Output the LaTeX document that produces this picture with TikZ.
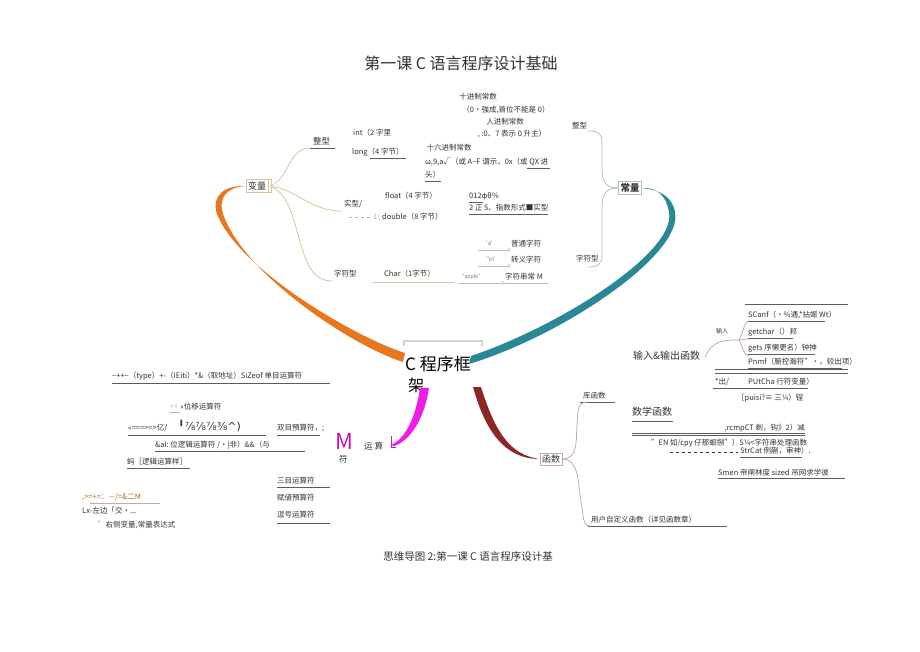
\documentclass[tikz,border=0pt]{standalone}
\usepackage{fontspec}
\setmainfont{Noto Sans CJK SC}
\newfontfamily\symf{DejaVu Sans}
\newfontfamily\latf{Carlito}
\definecolor{txt}{HTML}{333333}
\definecolor{orng}{HTML}{E8771E}
\definecolor{teal2}{HTML}{2A8797}
\definecolor{mag}{HTML}{EE1CE6}
\definecolor{dred}{HTML}{8E2626}
\definecolor{tan2}{HTML}{DCC4A0}
\definecolor{tealg}{HTML}{A6C4C6}
\definecolor{pinkg}{HTML}{C8A8B0}
\begin{document}
\begin{tikzpicture}[x=1pt,y=-1pt,
  t/.style={anchor=west,inner sep=0pt,text=txt,font=\fontsize{7.5}{8}\selectfont},
  tc/.style={t,anchor=center},
  big/.style={t,font=\fontsize{10}{11}\selectfont},
  ul/.style={draw=txt!80,line width=0.5pt},
  ulp/.style={draw=pinkg,line width=0.5pt},
  brT/.style={draw=tan2,line width=0.8pt},
  brC/.style={draw=tealg,line width=0.8pt},
  brP/.style={draw=pinkg,line width=0.8pt},
  boxn/.style={draw=#1,line width=0.7pt,inner sep=2pt,text=txt,font=\fontsize{9}{10}\selectfont}
]
\useasboundingbox (0,0) rectangle (920,651);
\fill[white] (0,0) rectangle (920,651);

% title and caption
\node[tc,font=\fontsize{16}{17}\selectfont] (title) at (461,63) {第一课 C 语言程序设计基础};
\node[tc,font=\fontsize{10.5}{12}\selectfont] (cap) at (468,556) {思维导图 2:第一课 C 语言程序设计基};

% centre
\node[minimum width=78pt,minimum height=38pt,inner sep=0pt] (ctr) at (443,360) {};
\draw[gray!35,line width=1.3pt] (404,346) -- (404,341) -- (482,341) -- (482,346);
\node[t,font=\fontsize{17}{18}\selectfont,text=black] (ctrA) at (405,364) {C 程序框};
\node[t,font=\fontsize{16}{18}\selectfont,text=black] (ctrB) at (408,385) {架};

% main nodes
\node[boxn=tan2] (var) at (257,186) {变量};
\node[boxn=tealg,font=\fontsize{9.5}{10}\selectfont\bfseries] (const) at (630,188) {常量};
\node[boxn=pinkg] (func) at (551,459) {函数};
\node[big] (io) at (633,356) {输入\&输出函数};
\node[t,font=\fontsize{22}{22}\selectfont,text=mag!60!violet] (opM) at (335,441) {M};
\node[t,font=\fontsize{8.5}{9}\selectfont] (opF) at (339,459) {符};
\node[t,font=\fontsize{8.5}{9}\selectfont] (opY) at (364,446) {运 算};

% main tapered connectors
\fill[orng] (405,353) .. controls (352,336) and (238,268) .. (217,214)
  .. controls (211,195) and (225,185.3) .. (var.west)
  .. controls (227,187.5) and (218,197) .. (223,214)
  .. controls (244,274) and (350,345) .. (403,362) -- cycle;
\fill[teal2] (471,356) .. controls (560,326) and (677,252) .. (669,212)
  .. controls (666,196) and (658,187.3) .. (const.east)
  .. controls (661,190) and (672,197) .. (675,212)
  .. controls (684,254) and (562,336) .. (469,364) -- cycle;
\fill[mag] (420,388) -- (429,388) .. controls (424,420) and (410,441) .. (393,446.5)
  -- (392,444.5) .. controls (406,438) and (416,416) .. (420,388) -- cycle;
\draw[mag!70!violet,line width=1pt] (391,436) -- (391,447) -- (396,447);
\fill[dred] (473,387) -- (481,387) .. controls (494,428) and (508,455) .. (func.west)
  .. controls (504,459) and (485,430) .. (473,387) -- cycle;

% ---------- variables ----------
\node[t,font=\fontsize{8.5}{9}\selectfont] (zx) at (313,141) {整型};
\draw[ul] (310,148) -- (335,148);
\node[t] (sx) at (344,204) {实型/};
\node[t] (zf) at (334,274) {字符型};
\draw[brT] ([xshift=2pt]var.east) .. controls (290,178) and (288,148) .. (310,148);
\draw[brT] ([xshift=2pt]var.east) .. controls (298,190) and (310,211) .. (342,211);
\draw[brT] ([xshift=2pt]var.east) .. controls (305,200) and (292,281) .. (332,281);
\draw[tan2,line width=1pt] (var.north east) -- ++(3,0) -- ([xshift=3pt]var.south east) -- (var.south east);

\node[t] (int) at (353,133) {int（2 字里};
\node[t] (long) at (352,152) {long（4 字节）};
\draw[ul] (370,158) -- (406,158);
\node[tc] (d10) at (478,97) {十进制常数};
\node[tc] (d10b) at (506,110) {（0•強成,首位不能是 0）};
\node[tc] (d8) at (505,122) {人进制常数};
\node[tc] (d8b) at (512,134) {, :0、7 表示 0 升主）};
\node[tc] (d16) at (449,148) {十六进制常数};
\node[t] (d16b) at (425,162) {ω,9,a√（或 A−F 谓示，0x（或 QX 进};
\draw[ul] (527,168) -- (550,168);
\node[t] (d16c) at (425,175) {头）};
\draw[ul] (425,181) -- (441,181);
\node[t] (flt) at (385,196) {float（4 字节）};
\draw[pinkg,dashed,line width=0.5pt] (349,217) -- (373,217);
\node[t,text=pinkg] (dbl0) at (373,217) {1\textbackslash\_};
\node[t] (dbl) at (382,217) {double（8 字节）};
\node[t] (fa) at (469,196) {012φθ\%};
\draw[ul] (469,202) -- (483,202);
\node[t] (fb) at (469,208) {2 正 5、指数形式■实型};
\draw[ul] (469,214) -- (548,214);

\node[t,text=gray,font=\latf\fontsize{7}{8}\selectfont] (ca) at (486,243) {\textquotesingle a\textquotesingle};
\node[t] (cn) at (511,244) {普通字符};
\node[t,text=gray,font=\latf\fontsize{7}{8}\selectfont] (cb) at (486,259) {\textquotesingle\textbackslash n\textquotesingle};
\node[t] (ce) at (511,260) {转义字符};
\node[t] (chr) at (384,274) {Char（1字节）};
\node[t,text=gray,font=\latf\fontsize{6}{7}\selectfont] (cs) at (462,277) {"apple"};
\node[t] (cstr) at (505,277) {字符串常 M};
\draw[tealg,line width=0.6pt] (478,250) -- (509,250);
\draw[tealg,line width=0.6pt] (478,266) -- (509,266);
\draw[tealg,fill=white,line width=0.5pt] (509,250) circle (1.5pt);
\draw[tealg,fill=white,line width=0.5pt] (509,266) circle (1.5pt);
\draw[tan2,line width=0.6pt] (372,282) -- (455,282);
\draw[tealg,line width=0.6pt] (458,283) -- (548,283);
\draw[tealg,fill=white,line width=0.5pt] (503,283) circle (1.5pt);

% ---------- constants ----------
\node[t] (cz) at (572,126) {整型};
\node[t] (czf) at (576,259) {字符型};
\draw[brC] (const.west) .. controls (604,188) and (602,180) .. (602,168) -- (602,142)
  .. controls (602,133) and (598,131) .. (588,131);
\draw[brC] (const.west) .. controls (604,188) and (602,196) .. (602,208) -- (602,255)
  .. controls (602,264) and (598,267) .. (588,267);

% ---------- input / output ----------
\draw[ul] (745,304) -- (848,304);
\node[t,font=\fontsize{6}{7}\selectfont] (in) at (716,331) {输入};
\coordinate (inJ) at (739,340);
\draw[brP] (705,357) .. controls (712,340) and (725,340) .. (inJ);
\draw[brP] (inJ) .. controls (743,333) and (744,322) .. (749,321);
\draw[brP] (inJ) -- (748,339);
\draw[brP] (inJ) .. controls (743,347) and (744,356) .. (749,356);
\node[t] (scanf) at (748,315) {SCanf（·\%通,*拈娠 Wt）};
\draw[ul] (748,321) -- (825,321);
\node[t] (getc) at (748,332) {getchar（）邦};
\draw[ul] (748,338) -- (793,338);
\node[t] (gets) at (748,348) {gets 序懒更名）钟抻};
\draw[ul] (748,354) -- (815,354);
\node[t] (pmf) at (748,362) {Pnmf（腑控瀚符"•，较出项）};
\draw[ul] (748,368) -- (842,368);
\draw[ul] (715,369) -- (848,369);
\draw[ul] (715,373) -- (848,373);
\node[t] (out) at (715,382) {*出/};
\node[t] (putc) at (748,382) {PUtCha 行符变量）};
\draw[ul] (713,388) -- (808,388);
\node[t] (puts) at (737,398) {［puisi?≡ 三¼）锃};

\node[big] (math) at (632,412) {数学函数};
\draw[ul] (632,421) -- (673,421);
\node[t,anchor=east] (strc) at (805,428) {,rcmpCT 剃，钩》2）减};
\draw[ul] (632,433) -- (805,433);
\draw[ul] (632,435) -- (805,435);
\node[t] (strp) at (651,443) {"EN 如/cpy 仔那蛔捌"）S¼<字符串处理函数};
\node[t,text=pinkg] (q) at (800,441) {"};
\draw[txt,dashed,line width=0.5pt] (670,452) -- (738,452);
\node[t] (strcat) at (740,451) {StrCat 例蒯，审神）.};
\draw[ul] (740,457) -- (802,457);
\node[t] (smen) at (718,473) {Smen 帝闸林度 sized 吊网求学彼};
\draw[ul] (718,478) -- (845,478);

% ---------- functions ----------
\node[t] (lib) at (583,396) {库函数};
\draw[ul] (580,402) -- (615,402);
\node[t] (user) at (591,520) {用户自定义函数（详见函数章）};
\draw[ul] (588,526) -- (727,526);
\draw[brP] (func.east) .. controls (578,459) and (576,440) .. (577,425) -- (578,412)
  .. controls (579,404) and (582,402) .. (588,402);
\draw[brP] (func.east) .. controls (578,459) and (578,480) .. (580,495) -- (583,515)
  .. controls (584,523) and (586,526) .. (590,526);

% ---------- operators ----------
\node[t] (uno) at (112,376) {−++−（type）+-（IEiti）*\&（取地址）SiZeof 单目运算符};
\draw[ul] (112,383) -- (330,383);
\node[t,text=pinkg] (shl0) at (170,407) {«»};
\node[t] (shl) at (180,407) {>>位移运算符};
\draw[ulp] (170,412) -- (180,412);
\node[t] (cmp) at (128,428) {<<===>=>亿/};
\node[t,font=\symf\fontsize{11}{12}\selectfont] (cmp2) at (178,426) {╹⅞⅞⅞⅜\textasciicircum)};
\draw[ul] (128,435) -- (266,435);
\node[t] (bin) at (277,428) {双目預算符，;};
\draw[ul] (277,435) -- (320,435);
\node[t] (logic) at (155,445) {\&aI: 位逻辑运算符 /•|非）\&\&（与};
\draw[ul] (155,451) -- (305,451);
\node[t] (logic2) at (127,462) {蚂［逻辑运算样］};
\draw[ul] (127,468) -- (190,468);
\node[t] (tri) at (277,481) {三目运算符};
\draw[ul] (277,487) -- (330,487);
\node[t] (asg) at (277,498) {赋値預算符};
\node[t] (com) at (277,515) {逗号运算符};
\draw[ul] (277,523) -- (330,523);
\node[t,text=orng!80!black] (asg2) at (82,497) {,>=+=：—/=\&二M};
\draw[ulp] (90,503) -- (160,503);
\node[t] (lx) at (82,511) {Lx-左边「交·...};
\node[t] (rx) at (98,525) {'右侧变量,常量表达式};
\end{tikzpicture}
\end{document}
